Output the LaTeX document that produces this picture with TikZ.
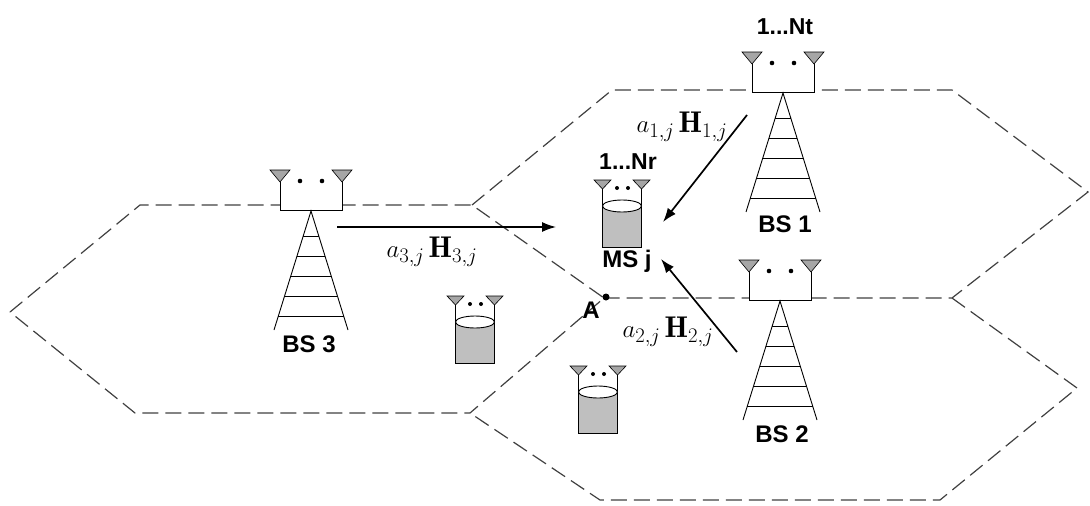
\documentclass[tikz,border=0pt]{standalone}
\usepackage{fontspec}
\newfontfamily\etichfont{Liberation Sans}
\usetikzlibrary{arrows.meta}

\tikzset{
  tratto/.style={black!75, line width=1.2pt, dash pattern=on 16pt off 7pt},
  antenna/.style={draw=black, fill=gray!70, line width=0.6pt},
  linea/.style={black, line width=0.9pt},
  freccia/.style={-{Latex[length=14pt,width=10pt]}, line width=1.7pt},
  etichetta/.style={font=\etichfont\bfseries\fontsize{24}{26}\selectfont, inner sep=0pt},
  antenne/.style={font=\etichfont\bfseries\fontsize{23}{25}\selectfont, inner sep=0pt},
  canale/.style={font=\fontsize{30}{32}\selectfont, inner sep=0pt},
  % stazione base: staffa con antenne e traliccio
  torre/.pic={
    \fill[white] (-31,-27) rectangle (31,0);
    \draw[linea] (-31,-28) -- (-31,0) -- (31,0) -- (31,-28);
    \draw[antenna] (-41,-40) -- (-21,-40) -- (-31,-28) -- cycle;
    \draw[antenna] (21,-40) -- (41,-40) -- (31,-28) -- cycle;
    \fill (-11,-29) circle (2.3pt);
    \fill (11,-29) circle (2.3pt);
    \draw[linea] (-37,120) -- (0,1) -- (37,120);
    \foreach \y in {26,46,66,86,106}
      \draw[linea] ({-37*(\y-1)/119},\y) -- ({37*(\y-1)/119},\y);
  },
  % terminale mobile: cilindro con due antenne
  mobile/.pic={
    \fill[gray!50] (-19.5,0) rectangle (19.5,41);
    \draw[linea] (-19.5,-17) -- (-19.5,41) -- (19.5,41) -- (19.5,-17);
    \draw[linea, fill=white] (0,0) ellipse (19.5pt and 6pt);
    \draw[antenna] (-28,-26) -- (-11,-26) -- (-19.5,-17) -- cycle;
    \draw[antenna] (11,-26) -- (28,-26) -- (19.5,-17) -- cycle;
    \fill (-5,-18) circle (2pt);
    \fill (6,-18) circle (2pt);
  }
}

\begin{document}
\begin{tikzpicture}[x=1pt, y=-1pt]
  \useasboundingbox (0,0) rectangle (1090,506);

  % Celle esagonali (tratteggiate)
  \draw[tratto] (10,312) -- (140,205) -- (472,205) -- (604,298) -- (470,413) -- (135,413) -- cycle;
  \draw[tratto] (472,205) -- (612,90) -- (952,90) -- (1088,192) -- (952,298) -- (604,298);
  \draw[tratto] (952,298) -- (1077,388) -- (940,500) -- (600,500) -- (470,413);

  % Stazioni base
  \pic at (783,92) {torre};
  \pic at (780,300) {torre};
  \pic at (311,210) {torre};
  \node[etichetta] (bs1) at (785,224) {BS 1};
  \node[etichetta] (bs2) at (782,434) {BS 2};
  \node[etichetta] (bs3) at (309,344) {BS 3};
  \node[antenne] (nt) at (785,27) {1...Nt};

  % Terminali mobili
  \pic at (622,206) {mobile};
  \pic at (475,322) {mobile};
  \pic at (598,392) {mobile};
  \node[antenne] (nr) at (628,162) {1...Nr};
  \node[etichetta] (msj) at (627,261) {MS j};

  % Punto A
  \coordinate (A) at (606,297);
  \fill (A) circle (3.5pt);
  \node[etichetta] (lbA) at (591,310) {A};

  % Canali verso MS j
  \coordinate (s1) at (747,115);
  \coordinate (d1) at (663,222);
  \coordinate (s2) at (737,352);
  \coordinate (d2) at (661,259);
  \coordinate (s3) at (337,227);
  \coordinate (d3) at (556,227);
  \draw[freccia] (s1) -- (d1);
  \draw[freccia] (s2) -- (d2);
  \draw[freccia, line width=1.4pt] (s3) -- (d3);
  \node[canale] (h1) at (682,127) {$a_{1,j}\,\mathbf{H}_{1,j}$};
  \node[canale] (h2) at (668,332) {$a_{2,j}\,\mathbf{H}_{2,j}$};
  \node[canale] (h3) at (432,252) {$a_{3,j}\,\mathbf{H}_{3,j}$};
\end{tikzpicture}
\end{document}
